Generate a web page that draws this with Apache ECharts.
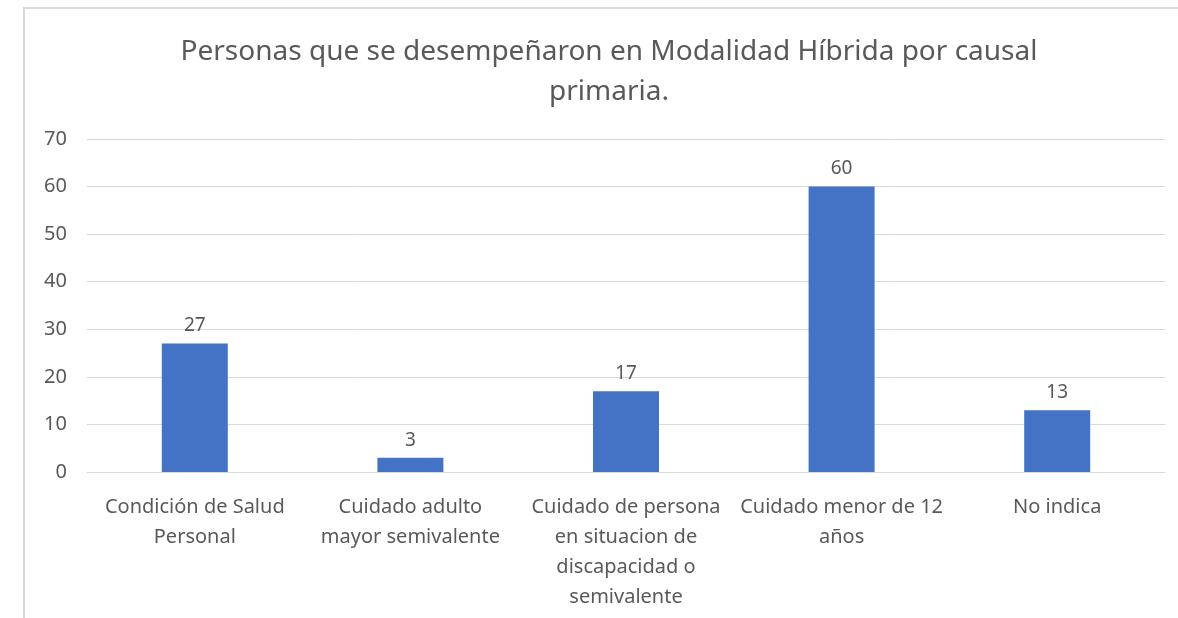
<!DOCTYPE html>
<html>
<head>
<meta charset="utf-8">
<script src="https://cdn.jsdelivr.net/npm/echarts@6/dist/echarts.min.js"></script>
<style>
  html, body { margin: 0; padding: 0; background: #fff; }
  #chart { width: 1178px; height: 618px; }
</style>
</head>
<body>
<div id="chart"></div>
<script>
const titleLines = [
  "Personas que se desempeñaron en Modalidad Híbrida por causal",
  "primaria."
];
const categories = [
  "Condición de Salud\nPersonal",
  "Cuidado adulto\nmayor semivalente",
  "Cuidado de persona\nen situacion de\ndiscapacidad o\nsemivalente",
  "Cuidado menor de 12\naños",
  "No indica"
];
const values = [27, 3, 17, 60, 13];
const yTicks = { min: 0, max: 70, interval: 10 };

const chart = echarts.init(document.getElementById("chart"));
const textColor = "#595959";
const font = "'Noto Sans', sans-serif";

chart.setOption({
  animation: false,
  graphic: [
    {
      type: "rect",
      shape: { x: 24, y: 8, width: 1200, height: 700 },
      style: { fill: "none", stroke: "#d9d9d9", lineWidth: 2 },
      silent: true
    },
    {
      type: "text",
      x: 609,
      y: 32,
      style: {
        text: titleLines.join("\n"),
        align: "center",
        fill: textColor,
        fontSize: 28,
        fontFamily: font,
        lineHeight: 40
      },
      silent: true
    }
  ],
  grid: { left: 87, right: 13, top: 139, bottom: 146 },
  xAxis: {
    type: "category",
    data: categories,
    axisLine: { lineStyle: { color: "#d9d9d9" } },
    axisTick: { show: false },
    axisLabel: {
      color: textColor,
      fontSize: 20,
      fontFamily: font,
      lineHeight: 30,
      margin: 20,
      interval: 0
    }
  },
  yAxis: {
    type: "value",
    min: yTicks.min,
    max: yTicks.max,
    interval: yTicks.interval,
    axisLine: { show: false },
    axisTick: { show: false },
    splitLine: { lineStyle: { color: "#d9d9d9" } },
    axisLabel: {
      color: textColor,
      fontSize: 20,
      fontFamily: font,
      margin: 20
    }
  },
  series: [{
    type: "bar",
    data: values,
    barWidth: 66,
    itemStyle: { color: "#4472C4" },
    label: {
      show: true,
      position: "top",
      distance: 8,
      color: textColor,
      fontSize: 19,
      fontFamily: font
    }
  }]
});
</script>
</body>
</html>
